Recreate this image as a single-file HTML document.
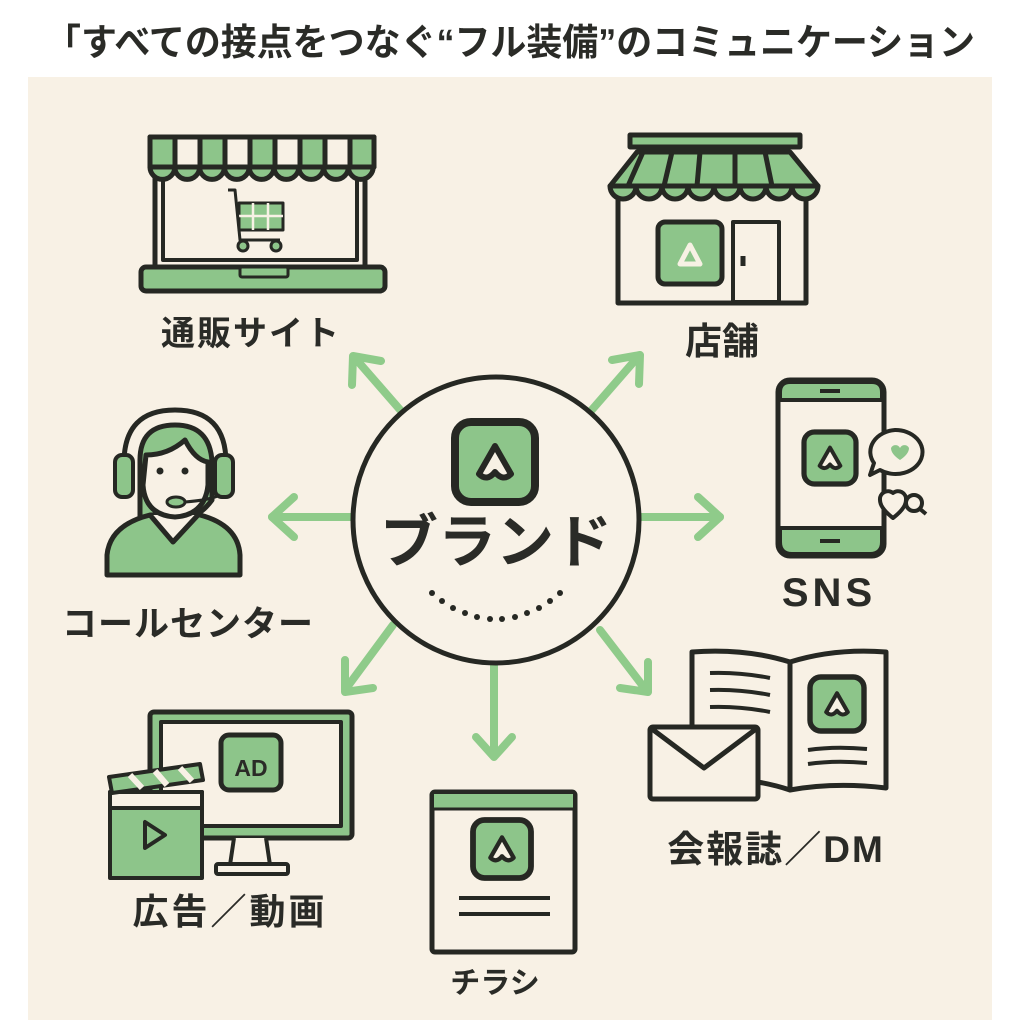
<!DOCTYPE html>
<html><head><meta charset="utf-8"><style>
html,body{margin:0;padding:0;background:#fff;width:1020px;height:1024px;overflow:hidden}
svg{display:block}
text{font-family:"Liberation Sans","Noto Sans CJK JP",sans-serif;font-weight:bold;fill:#2a2b27}
</style></head><body>
<svg width="1020" height="1024" viewBox="0 0 1020 1024" xmlns="http://www.w3.org/2000/svg">
<defs>
<g id="logo">
<rect x="-20" y="-20" width="40" height="40" rx="8" fill="#8dc58a" stroke="#262823" stroke-width="4"/>
<path d="M-8 6 L0 -8 L8 6 Q4 10 0 5 Q-4 10 -8 6Z" fill="#f7f1e4" stroke="#262823" stroke-width="3" stroke-linejoin="round"/>
</g>
</defs>
<text x="510" y="55" font-size="37" text-anchor="middle" textLength="930" lengthAdjust="spacingAndGlyphs">「すべての接点をつなぐ“フル装備”のコミュニケーション</text>
<rect x="28" y="77" width="964" height="943" fill="#f8f1e5"/>

<!-- arrows -->
<g stroke="#8fcb8a" stroke-width="8" fill="none" stroke-linecap="round" stroke-linejoin="round">
<line x1="402" y1="412" x2="355" y2="358"/><polyline points="352,385 353,356 381,361"/>
<line x1="590" y1="412" x2="637" y2="358"/><polyline points="612,360 640,355 639,384"/>
<line x1="352" y1="517" x2="272" y2="517"/><polyline points="294,497 272,517 294,537"/>
<line x1="640" y1="517" x2="720" y2="517"/><polyline points="698,497 720,517 698,537"/>
<line x1="393" y1="625" x2="345" y2="690"/><polyline points="345,660 345,692 373,688"/>
<line x1="494" y1="665" x2="494" y2="755"/><polyline points="476,737 494,757 512,737"/>
<line x1="600" y1="630" x2="646" y2="690"/><polyline points="620,688 648,692 648,662"/>
</g>

<!-- center -->
<circle cx="496" cy="520" r="143" fill="#f8f2e7" stroke="#262823" stroke-width="5"/>
<use href="#logo" transform="translate(495,462) scale(2)"/>
<text x="496" y="562" font-size="58" text-anchor="middle">ブランド</text>
<g fill="#262823">
<circle cx="432" cy="593" r="3"/><circle cx="442" cy="601" r="3"/><circle cx="453" cy="608" r="3"/><circle cx="465" cy="613" r="3"/><circle cx="477" cy="617" r="3"/><circle cx="490" cy="619" r="3"/><circle cx="502" cy="619" r="3"/><circle cx="515" cy="617" r="3"/><circle cx="527" cy="613" r="3"/><circle cx="539" cy="608" r="3"/><circle cx="550" cy="601" r="3"/><circle cx="560" cy="593" r="3"/>
</g>

<!-- laptop -->
<g stroke="#262823" stroke-width="5" stroke-linejoin="round">
<rect x="155" y="140" width="210" height="127" fill="#f8f1e5"/>
<rect x="163" y="150" width="194" height="110" fill="#f8f1e5" stroke-width="4"/>
<rect x="141" y="267" width="244" height="24" rx="5" fill="#8dc58a"/>
<rect x="240" y="267" width="48" height="10" rx="2" fill="#8dc58a" stroke-width="3"/>
<rect x="150" y="137" width="224" height="30" fill="#f8f1e5"/>
<g fill="#8dc58a"><rect x="150" y="137" width="25" height="30"/><rect x="200" y="137" width="25" height="30"/><rect x="250" y="137" width="25" height="30"/><rect x="300" y="137" width="25" height="30"/><rect x="350" y="137" width="24" height="30"/></g>
<path d="M150 167 a12.4 12.4 0 0 0 24.8 0 a12.4 12.4 0 0 0 24.8 0 a12.4 12.4 0 0 0 24.8 0 a12.4 12.4 0 0 0 24.8 0 a12.4 12.4 0 0 0 24.8 0 a12.4 12.4 0 0 0 24.8 0 a12.4 12.4 0 0 0 24.8 0 a12.4 12.4 0 0 0 24.8 0 a12.4 12.4 0 0 0 24.8 0Z" fill="#8dc58a"/>
<rect x="239" y="203" width="44" height="27" fill="#8dc58a" stroke-width="3"/>
<path d="M253 203 L253 230 M268 203 L268 230 M239 216 L283 216" stroke="#f8f1e5" stroke-width="2.5"/>
<polyline points="228,190 235,190 240,240 280,240" fill="none" stroke-width="3"/>
<circle cx="243" cy="246" r="5" fill="#8dc58a" stroke-width="3"/><circle cx="276" cy="246" r="5" fill="#8dc58a" stroke-width="3"/>
</g>
<text x="251" y="345" font-size="34" text-anchor="middle" letter-spacing="2">通販サイト</text>

<!-- store -->
<g stroke="#262823" stroke-width="5" stroke-linejoin="round">
<rect x="618" y="185" width="188" height="118" fill="#f8f1e5"/>
<rect x="630" y="135" width="170" height="12" fill="#8dc58a"/>
<path d="M637 152 L790 152 L818 186 L610 186Z" fill="#8dc58a"/>
<path d="M643 152 L628 186 M672 152 L664 186 M700 152 L697 186 M735 152 L735 186 M765 152 L772 186" fill="none"/>
<path d="M610 186 a13 13 0 0 0 26 0 a13 13 0 0 0 26 0 a13 13 0 0 0 26 0 a13 13 0 0 0 26 0 a13 13 0 0 0 26 0 a13 13 0 0 0 26 0 a13 13 0 0 0 26 0 a13 13 0 0 0 26 0Z" fill="#8dc58a"/>
<rect x="658" y="222" width="64" height="62" rx="7" fill="#8dc58a"/>
<rect x="733" y="222" width="46" height="80" fill="#f8f1e5" stroke-width="4"/>
<line x1="743" y1="256" x2="743" y2="266"/>
</g>
<path d="M680 264 L690 245 L700 264Z" fill="none" stroke="#f7f1e4" stroke-width="5" stroke-linejoin="round"/>
<text x="722" y="354" font-size="37" text-anchor="middle">店舗</text>

<!-- phone -->
<g stroke="#262823" stroke-width="5" stroke-linejoin="round">
<rect x="778" y="380" width="106" height="176" rx="12" fill="#f8f1e5"/>
<path d="M780 400 L780 392 Q780 382 790 382 L872 382 Q882 382 882 392 L882 400Z" fill="#8dc58a" stroke-width="4"/>
<path d="M780 528 L882 528 L882 542 Q882 554 870 554 L792 554 Q780 554 780 542Z" fill="#8dc58a" stroke-width="4"/>
<line x1="820" y1="391" x2="840" y2="391" stroke-width="4"/>
<line x1="820" y1="541" x2="840" y2="541" stroke-width="4"/>
<path d="M895 430 a27 22 0 1 1 -15 40 l-10 5 l4 -12 a27 22 0 0 1 21 -33Z" fill="#f8f1e5" stroke-width="4"/>
<path d="M880 500 a8 8 0 0 1 13 -7 a8 8 0 0 1 13 7 q0 8 -13 18 q-13 -10 -13 -18Z" fill="#f8f1e5" stroke-width="4"/>
<circle cx="914" cy="503" r="8" fill="#f8f1e5" stroke-width="4"/><line x1="920" y1="509" x2="926" y2="514" stroke-width="4"/>
</g>
<use href="#logo" transform="translate(830,458) scale(1.3)"/>
<path d="M891 448 a5 5 0 0 1 9 0 a5 5 0 0 1 9 0 q0 6 -9 12 q-9 -6 -9 -12Z" fill="#8dc58a"/>
<text x="829" y="606" font-size="40" text-anchor="middle" letter-spacing="4">SNS</text>

<!-- call center -->
<g stroke="#262823" stroke-width="5" stroke-linejoin="round">
<path d="M140 460 Q140 425 175 425 Q210 425 212 462 L212 500 Q190 530 160 510 L140 525Z" fill="#8dc58a"/>
<path d="M107 575 L107 555 Q110 525 150 515 L200 515 Q238 525 240 555 L240 575Z" fill="#8dc58a"/>
<path d="M150 515 L173 542 L198 515" fill="#f8f1e5"/>
<path d="M146 455 Q168 455 185 440 Q195 460 208 462 L208 485 Q205 515 175 517 Q145 515 143 485Z" fill="#f8f1e5"/>
<path d="M124 463 Q124 410 175 410 Q226 410 226 463" fill="none"/>
<rect x="115" y="455" width="18" height="42" rx="7" fill="#8dc58a" stroke-width="4"/>
<rect x="215" y="455" width="18" height="42" rx="7" fill="#8dc58a" stroke-width="4"/>
<path d="M220 495 Q210 500 185 502" fill="none" stroke-width="3"/>
<ellipse cx="176" cy="502" rx="9" ry="5" fill="#8dc58a" stroke-width="3"/>
</g>
<circle cx="160" cy="471" r="3.5" fill="#262823"/><circle cx="185" cy="471" r="3.5" fill="#262823"/>
<text x="188" y="636" font-size="35" text-anchor="middle" letter-spacing="1">コールセンター</text>

<!-- ad monitor -->
<g stroke="#262823" stroke-width="5" stroke-linejoin="round">
<rect x="150" y="712" width="202" height="126" rx="4" fill="#8dc58a"/>
<rect x="161" y="722" width="180" height="104" fill="#f8f1e5" stroke-width="4"/>
<path d="M234 838 L230 865 L270 865 L266 838" fill="#f8f1e5" stroke-width="4"/>
<rect x="216" y="864" width="72" height="10" rx="2" fill="#f8f1e5" stroke-width="4"/>
<rect x="221" y="735" width="60" height="55" rx="8" fill="#8dc58a"/>
<rect x="110" y="792" width="92" height="86" fill="#8dc58a" stroke-width="4"/>
<rect x="110" y="792" width="92" height="16" fill="#f8f1e5" stroke-width="4"/>
<path d="M109 777 L200 764 L203 780 L112 793Z" fill="#8dc58a" stroke-width="4"/>
<path d="M130 775 L142 788 M155 771 L167 785 M180 768 L192 781" stroke-width="6" stroke="#f8f1e5"/>
<path d="M145 822 L145 848 L165 835Z" fill="#8dc58a" stroke-width="4"/>
</g>
<text x="251" y="776" font-size="23" text-anchor="middle">AD</text>
<text x="230" y="924" font-size="36" text-anchor="middle" letter-spacing="3">広告／動画</text>

<!-- flyer -->
<g stroke="#262823" stroke-width="5" stroke-linejoin="round">
<rect x="432" y="792" width="143" height="160" rx="3" fill="#f8f1e5"/>
<path d="M434 794 L573 794 L573 808 L434 808Z" fill="#8dc58a" stroke="none"/>
<line x1="434" y1="809" x2="573" y2="809" stroke-width="3"/>
<line x1="459" y1="898" x2="550" y2="898" stroke-width="4"/>
<line x1="459" y1="914" x2="550" y2="914" stroke-width="4"/>
</g>
<use href="#logo" transform="translate(502,849) scale(1.45)"/>
<text x="495" y="993" font-size="30" text-anchor="middle">チラシ</text>

<!-- magazine -->
<g stroke="#262823" stroke-width="5" stroke-linejoin="round">
<path d="M692 652 Q745 648 790 662 L790 790 Q745 775 692 780Z" fill="#f8f1e5"/>
<path d="M790 662 Q835 648 886 652 L886 788 Q835 782 790 790Z" fill="#f8f1e5"/>
<path d="M710 673 Q740 672 770 678 M710 690 Q740 689 770 695 M710 707 Q740 706 770 712" fill="none" stroke-width="4"/>
<path d="M808 750 Q835 746 867 749 M808 764 Q835 760 867 763" fill="none" stroke-width="4"/>
<rect x="650" y="727" width="108" height="72" rx="3" fill="#f8f1e5"/>
<polyline points="652,729 704,768 756,729" fill="none"/>
</g>
<use href="#logo" transform="translate(837,704) scale(1.35)"/>
<text x="776" y="862" font-size="37" text-anchor="middle" letter-spacing="2">会報誌／DM</text>
</svg>
</body></html>
